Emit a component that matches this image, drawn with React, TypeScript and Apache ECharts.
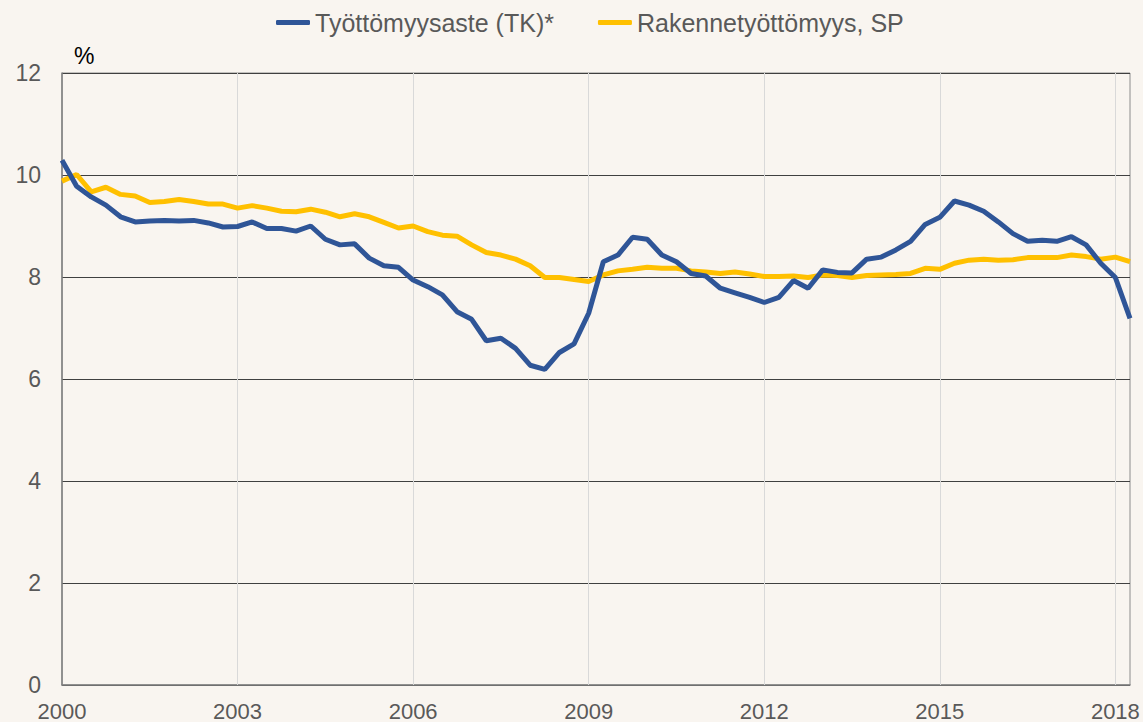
import React, { useEffect, useRef } from "react";
import * as echarts from "echarts";

const startYear = 2000;
const quarterStep = 0.25;

const unemploymentRate = [
  10.29, 9.78, 9.57, 9.41, 9.18, 9.08, 9.1, 9.11, 9.1, 9.11,
  9.06, 8.98, 8.99, 9.08, 8.95, 8.95, 8.9, 9.0, 8.74, 8.63,
  8.65, 8.37, 8.22, 8.19, 7.94, 7.81, 7.65, 7.32, 7.17, 6.75,
  6.8, 6.6, 6.27, 6.19, 6.52, 6.69, 7.29, 8.3, 8.43, 8.78,
  8.74, 8.43, 8.3, 8.07, 8.02, 7.78, 7.69, 7.6, 7.5, 7.6,
  7.93, 7.78, 8.14, 8.09, 8.08, 8.35, 8.39, 8.53, 8.7, 9.03,
  9.17, 9.49, 9.41, 9.29, 9.08, 8.85, 8.7, 8.72, 8.7, 8.79,
  8.63, 8.27, 7.99, 7.19,
];

const structuralUnemployment = [
  9.88, 10.01, 9.67, 9.76, 9.62, 9.59, 9.46, 9.48, 9.52, 9.48,
  9.43, 9.43, 9.35, 9.4, 9.35, 9.29, 9.28, 9.33, 9.27, 9.18,
  9.24, 9.18, 9.07, 8.96, 9.0, 8.89, 8.82, 8.8, 8.63, 8.48,
  8.43, 8.35, 8.22, 7.99, 7.99, 7.95, 7.91, 8.04, 8.12, 8.15,
  8.19, 8.17, 8.17, 8.12, 8.1, 8.07, 8.1, 8.06, 8.01, 8.01,
  8.02, 7.99, 8.04, 8.03, 7.99, 8.03, 8.04, 8.05, 8.07, 8.17,
  8.15, 8.27, 8.33, 8.35, 8.33, 8.34, 8.38, 8.38, 8.38, 8.43,
  8.4, 8.35, 8.39, 8.3,
];

const yearTickLabels = [2000, 2003, 2006, 2009, 2012, 2015, 2018];
const verticalGridYears = [2003, 2006, 2009, 2012, 2015, 2018];
const seriesNames = ["Työttömyysaste (TK)*", "Rakennetyöttömyys, SP"];

const FONT = "'Liberation Sans', Arial, sans-serif";

export default function App() {
  const ref = useRef<HTMLDivElement>(null);

  useEffect(() => {
    document.body.style.margin = "0";
    document.body.style.background = "#f9f5f0";
    if (!ref.current) return;
    const chart = echarts.init(ref.current, null, { renderer: "svg" });

    const toPairs = (arr: number[]) =>
      arr.map((v, i) => [startYear + i * quarterStep, v]);

    chart.setOption({
      animation: false,
      backgroundColor: "#f9f5f0",
      textStyle: { fontFamily: FONT },
      grid: {
        left: 62,
        right: 13,
        top: 73,
        bottom: 37,
        show: true,
        borderColor: "#8c8c8c",
        borderWidth: 1,
        backgroundColor: "transparent",
      },
      legend: {
        top: 5,
        left: 271,
        itemGap: 44,
        itemWidth: 34,
        itemHeight: 5,
        icon: "roundRect",
        textStyle: { fontSize: 25, color: "#595959", fontFamily: FONT },
        data: seriesNames,
      },
      graphic: [
        {
          type: "text",
          left: 74,
          top: 44,
          style: { text: "%", fontSize: 23, fill: "#000", fontFamily: FONT },
        },
      ],
      xAxis: {
        type: "value",
        min: 2000,
        max: 2018.25,
        interval: 1,
        axisLine: { show: true, lineStyle: { color: "#808080", width: 1.5 } },
        axisTick: { show: false },
        splitLine: { show: false },
        axisLabel: {
          fontSize: 22,
          color: "#595959",
          margin: 15,
          showMaxLabel: false,
          formatter: (v: number) =>
            yearTickLabels.includes(v) ? String(v) : "",
        },
      },
      yAxis: {
        type: "value",
        min: 0,
        max: 12,
        interval: 2,
        axisLine: { show: true, lineStyle: { color: "#808080", width: 1.5 } },
        axisTick: { show: false },
        splitLine: { show: true, lineStyle: { color: "#404040", width: 1 } },
        axisLabel: { fontSize: 23, color: "#595959", margin: 21 },
      },
      series: [
        {
          name: seriesNames[0],
          type: "line",
          data: toPairs(unemploymentRate),
          showSymbol: false,
          symbol: "none",
          z: 3,
          lineStyle: { color: "#2f5597", width: 5 },
          itemStyle: { color: "#2f5597" },
          markLine: {
            silent: true,
            symbol: "none",
            label: { show: false },
            lineStyle: { color: "#d9d9d9", width: 1, type: "solid" },
            data: verticalGridYears.map((y) => ({ xAxis: y })),
            z: 1,
          },
        },
        {
          name: seriesNames[1],
          type: "line",
          data: toPairs(structuralUnemployment),
          showSymbol: false,
          symbol: "none",
          z: 2,
          lineStyle: { color: "#ffc000", width: 5 },
          itemStyle: { color: "#ffc000" },
        },
      ],
    });

    return () => chart.dispose();
  }, []);

  return <div ref={ref} style={{ width: 1143, height: 722 }} />;
}
